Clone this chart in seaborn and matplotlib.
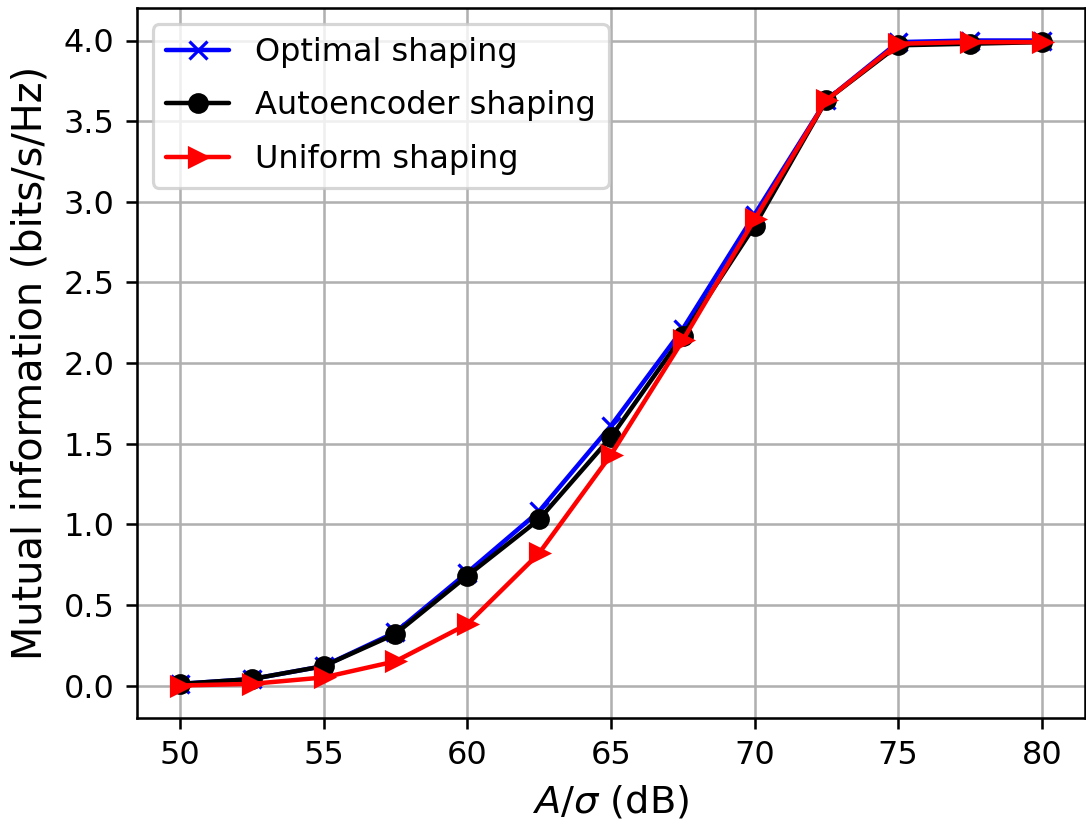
import numpy as np
import pandas as pd
import matplotlib
matplotlib.use("Agg")
import matplotlib.pyplot as plt
import seaborn as sns

## values
snr_db = [50, 52.5, 55, 57.5, 60, 62.5, 65, 67.5, 70, 72.5, 75, 77.5, 80]
mi_optimal = [0.01, 0.04, 0.12, 0.33, 0.70, 1.08, 1.61, 2.21, 2.92, 3.63, 3.99, 4.00, 4.00]
mi_autoenc = [0.01, 0.04, 0.12, 0.32, 0.68, 1.03, 1.54, 2.17, 2.85, 3.63, 3.97, 3.98, 3.99]
mi_uniform = [0.00, 0.01, 0.05, 0.15, 0.38, 0.82, 1.43, 2.14, 2.89, 3.63, 3.98, 3.99, 3.99]

sns.set_style("ticks", rc={"text.color": "black", "axes.labelcolor": "black",
                           "xtick.color": "black", "ytick.color": "black",
                           "axes.edgecolor": "black"})
plt.rcParams['font.family'] = ['DejaVu Sans']
plt.rcParams['font.size'] = 10

fig, ax = plt.subplots(figsize=(1086 / 230, 825 / 230), dpi=230)
fig.subplots_adjust(left=0.126, right=0.999, top=0.990, bottom=0.130)

sns.lineplot(x=snr_db, y=mi_optimal, ax=ax, color="blue", marker="x", markersize=5.5,
             markeredgecolor="blue", markeredgewidth=1, linewidth=1.4, label="Optimal shaping")
sns.lineplot(x=snr_db, y=mi_autoenc, ax=ax, color="black", marker="o", markersize=5.5,
             markeredgecolor="black", markeredgewidth=1, linewidth=1.4, label="Autoencoder shaping")
sns.lineplot(x=snr_db, y=mi_uniform, ax=ax, color="red", marker=">", markersize=5.5,
             markeredgecolor="red", markeredgewidth=1, linewidth=1.4, label="Uniform shaping")

ax.grid(True, color="#b0b0b0", linewidth=0.8)
ax.set_xticks([50, 55, 60, 65, 70, 75, 80])
ax.set_yticks(np.arange(0, 4.01, 0.5))
ax.set_ylim(-0.2, 4.2)
ax.set_xlim(48.5, 81.5)
ax.tick_params(labelsize=10, length=3.5, width=0.8)
for s in ax.spines.values():
    s.set_linewidth(0.8)
ax.set_xlabel(r"$A/\sigma$ (dB)", fontsize=12)
ax.set_ylabel("Mutual information (bits/s/Hz)", fontsize=12.5)
ax.legend(loc="upper left", fontsize=10, frameon=True, framealpha=0.8, labelspacing=0.7)

fig.savefig("out.png", dpi=230)
